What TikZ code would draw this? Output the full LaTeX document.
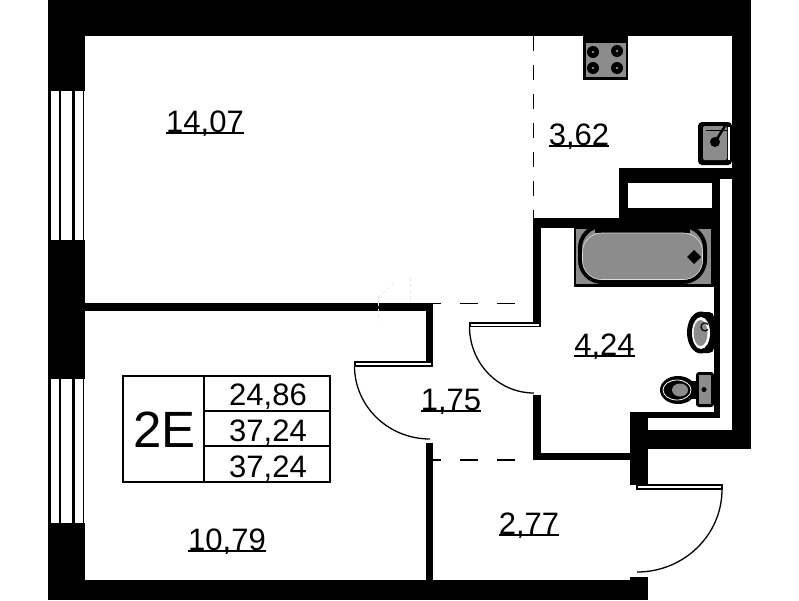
\documentclass[tikz,border=0pt]{standalone}
\usepackage{fontspec}
\setmainfont{Liberation Sans}
\newbox\ulbox
\newcommand\ulabel[1]{\setbox\ulbox=\hbox{#1}\hbox{\rlap{\raisebox{-1.6pt}{\rule{\wd\ulbox}{1.5pt}}}\copy\ulbox}}
\newcommand\wallrect[2]{\fill[black] (#1) rectangle (#2);}
\definecolor{fixt}{gray}{0.55}
\tikzset{
  roomlabel/.style={anchor=base,inner sep=0pt,font=\fontsize{31}{31}\selectfont},
  tablelabel/.style={anchor=base,inner sep=0pt,font=\fontsize{31}{31}\selectfont},
  partitionv/.style={draw=black,line width=1.3pt,dash pattern=on 15pt off 14pt},
  partitionh/.style={draw=black,line width=1.3pt,dash pattern=on 18pt off 19pt,dash phase=10pt},
  doorleaf/.style={draw=black,fill=white,line width=1.9pt},
  doorswing/.style={draw=black,line width=1.3pt},
  tableline/.style={draw=black,line width=1.2pt},
  tableheavy/.style={draw=black,line width=1.8pt},
  fixture/.style={fill=fixt},
  winline/.style={fill=white},
  ghost/.style={draw=black!10,line width=.6pt,dash pattern=on 3pt off 3pt}
}
\begin{document}
\begin{tikzpicture}[x=1pt,y=-1pt]
\useasboundingbox (0,0) rectangle (799,600);
\fill[white] (0,0) rectangle (799,600);
% outer walls
\wallrect{48,0}{751,36}
\wallrect{732,0}{751,449}
\wallrect{48,0}{85,91}
\wallrect{48,240}{85,379}
\wallrect{48,523}{85,600}
\wallrect{48,580}{648,600}
\wallrect{630,577}{648,600}
\wallrect{636,430}{751,449}
\wallrect{630,412}{648,485}
% windows
\foreach \yy/\yz in {91/240,379/523}{
  \fill[black] (48,\yy) rectangle (84.3,\yz);
  \fill[winline] (50.7,\yy) rectangle (59,\yz);
  \fill[winline] (61,\yy) rectangle (72.3,\yz);
  \fill[winline] (74.5,\yy) rectangle (82.7,\yz);
}
% bathroom block
\wallrect{619,168}{732,183}
\fill[white] (720,179) rectangle (732,183);
\wallrect{619,168}{628,228}
\wallrect{712,168}{720,228}
\wallrect{619,208}{720,228}
\wallrect{533,218}{628,228}
\wallrect{533,218}{541,323}
\wallrect{533,395}{541,460}
\wallrect{533,453}{630,460}
\wallrect{714,228}{720,418}
\wallrect{630,412}{720,418}
\wallrect{630,412}{636,430}
% centre walls
\wallrect{85,303}{433,311}
\wallrect{426,303}{433,366}
\wallrect{426,443}{433,580}
% faint trace
\draw[ghost] (378,297) -- (378,322);
\draw[ghost] (410,278) -- (410,303);
\draw[ghost] (378,297) -- (396,282);
% dashed partitions
\coordinate (kt) at (533.5,36);
\coordinate (kb) at (533.5,218);
\coordinate (h1a) at (433,303.5);
\coordinate (h1b) at (534,303.5);
\coordinate (h2a) at (433,460);
\coordinate (h2b) at (534,460);
\draw[partitionv] (kt) -- (kb);
\draw[partitionh] (h1a) -- (h1b);
\draw[partitionh] (h2a) -- (h2b);
% doors
\draw[doorleaf] (355,361.7) rectangle (432,365.8);
\draw[doorswing] (354.5,366) .. controls (354.5,406) and (388,439) .. (430,439);
\draw[doorleaf] (470,322.7) rectangle (540,326.5);
\draw[doorswing] (469.5,326.5) .. controls (469.5,363) and (498,393) .. (534,393);
\draw[doorleaf] (637,484.7) rectangle (722,489.3);
\draw[doorswing] (722,489.5) .. controls (722,535) and (684,572) .. (637,572);
% hob
\fill[black] (583,36) rectangle (628,80);
\fill[fixture] (586,43) rectangle (626,77);
\foreach \bx/\by in {593/52,617/51,593/68,617/68}{
  \fill[black] (\bx,\by) circle (6);
  \fill[fixt] (\bx,\by) circle (1.3);
}
% sink
\fill[black,rounded corners=4pt] (698,122) rectangle (732,165);
\fill[fixture,rounded corners=2pt] (703,126) rectangle (727,160);
\fill[white] (728,127) rectangle (730,160);
\draw[black,line width=1.2pt] (706,130.5) -- (727,130.5);
\fill[black] (715,142) circle (5);
\draw[black,line width=2.5pt] (715,142) -- (725,126);
% bath
\fill[black] (574,228) rectangle (714,287);
\fill[fixture] (576,229) rectangle (711,284);
\draw[black,line width=4pt,rounded corners=22pt] (580,226) rectangle (705,282);
\fill[black] (595,228) rectangle (690,233);
\draw[white!70!fixt,line width=.6pt,rounded corners=19pt] (582.5,233) rectangle (702.5,279.5);
\fill[black] (694,250) -- (701,257) -- (694,264) -- (687,257) -- cycle;
% bidet
\fill[black,rounded corners=5pt] (700,312) rectangle (714,353);
\fill[black] (701,332.5) ellipse (14 and 21);
\fill[white] (701,333) ellipse (9 and 16);
\fill[fixt] (700.5,333) ellipse (7 and 13);
\draw[black,line width=1.2pt] (708,329.5) arc[start angle=40,end angle=320,radius=4];
\fill[black] (711,318) rectangle (714,348);
% toilet
\fill[black,rounded corners=3pt] (696,372) rectangle (714,407);
\fill[fixture] (699,375) rectangle (711,404);
\fill[black] (704,389.5) circle (2.5);
\fill[black] (678,390) ellipse (18 and 14);
\fill[black] (690,381) rectangle (698,399);
\draw[white,line width=.8pt] (677,390) ellipse (14 and 10);
\fill[fixt] (680,390) ellipse (8 and 6.5);
% table
\draw[tableline] (123,376) rectangle (330,482);
\draw[tableline] (204,376) -- (204,482);
\draw[tableheavy] (204,411) rectangle (330,446);
% labels
\node[inner sep=0pt,anchor=base,font=\fontsize{51}{51}\selectfont] (apt) at (164.5,447) {2E};
\node[tablelabel] (a1) at (268,405) {24,86};
\node[tablelabel] (a2) at (268,441) {37,24};
\node[tablelabel] (a3) at (268,477) {37,24};
\node[roomlabel] (r1) at (205,132) {\ulabel{14,07}};
\node[roomlabel] (r2) at (579,145) {\ulabel{3,62}};
\node[roomlabel] (r3) at (604.5,355) {\ulabel{4,24}};
\node[roomlabel] (r4) at (451,410) {\ulabel{1,75}};
\node[roomlabel] (r5) at (529,534) {\ulabel{2,77}};
\node[roomlabel] (r6) at (227,550) {\ulabel{10,79}};
\end{tikzpicture}
\end{document}
